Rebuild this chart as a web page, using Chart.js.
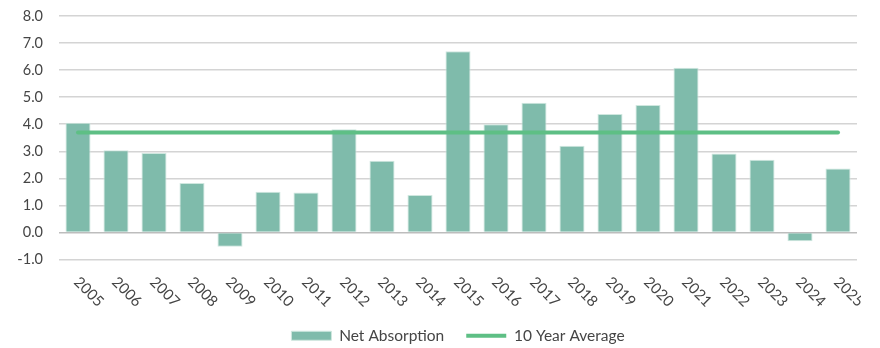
<!DOCTYPE html>
<html>
<head>
<meta charset="utf-8">
<script src="https://cdn.jsdelivr.net/npm/chart.js@4/dist/chart.umd.min.js"></script>
<style>
  html, body { margin: 0; padding: 0; background: #fff; }
  #wrap { width: 880px; height: 348px; position: relative; }
</style>
</head>
<body>
<div id="wrap"><canvas id="chart"></canvas></div>
<script>
// data
const years = ['2005', '2006', '2007', '2008', '2009', '2010', '2011', '2012', '2013', '2014',
  '2015', '2016', '2017', '2018', '2019', '2020', '2021', '2022', '2023', '2024', '2025'];
const netAbsorption = [4.05, 3.04, 2.94, 1.83, -0.53, 1.50, 1.48, 3.81, 2.65, 1.38,
  6.70, 4.00, 4.79, 3.20, 4.38, 4.71, 6.09, 2.92, 2.69, -0.33, 2.36];
const tenYearAvg = [3.69, 3.69, 3.69, 3.69, 3.69, 3.69, 3.69, 3.69, 3.69, 3.69,
  3.69, 3.69, 3.69, 3.69, 3.69, 3.69, 3.69, 3.69, 3.69, 3.69, 3.69];
const yTicks = [-1, 0, 1, 2, 3, 4, 5, 6, 7, 8];

const FONT = 'Lato, "Open Sans", sans-serif';
const TEXT = '#454545';

// x labels run down-right from the tick, which chart.js can't do by itself
const slantedLabels = {
  id: 'slantedLabels',
  afterDraw(chart) {
    const ctx = chart.ctx;
    const x = chart.scales.x;
    ctx.save();
    ctx.beginPath();
    ctx.rect(0, 0, 861, chart.height);
    ctx.clip();
    ctx.font = '15px ' + FONT;
    ctx.fillStyle = TEXT;
    ctx.textAlign = 'left';
    ctx.textBaseline = 'middle';
    chart.data.labels.forEach((lab, i) => {
      const px = x.getPixelForValue(i);
      ctx.save();
      ctx.translate(px - 1.5, x.top + 20);
      ctx.rotate(Math.PI / 4);
      ctx.fillText(lab, 0, 0);
      ctx.restore();
    });
    ctx.restore();
  }
};

const ctx = document.getElementById('chart').getContext('2d');
const chart = new Chart(ctx, {
  type: 'bar',
  data: {
    labels: years,
    datasets: [
      {
        type: 'bar',
        label: 'Net Absorption',
        data: netAbsorption,
        backgroundColor: '#7fbbab',
        borderColor: '#cfe7df',
        borderWidth: 1,
        barPercentage: 0.66,
        categoryPercentage: 1,
        pointStyle: 'rect',
        order: 1
      },
      {
        type: 'line',
        label: '10 Year Average',
        data: tenYearAvg,
        borderColor: '#5ebf85',
        backgroundColor: '#5ebf85',
        borderWidth: 4,
        borderCapStyle: 'round',
        pointRadius: 0,
        pointStyle: 'line',
        order: 0
      }
    ]
  },
  options: {
    responsive: true,
    maintainAspectRatio: false,
    animation: false,
    layout: { padding: { left: 0, right: 23, top: 16, bottom: -5.5 } },
    scales: {
      x: {
        grid: { display: false },
        border: { display: false },
        ticks: { display: false },
        afterFit: (s) => { s.height = 46.5; }
      },
      y: {
        min: -1,
        max: 8,
        afterBuildTicks: (s) => { s.ticks = yTicks.map(v => ({ value: v })); },
        afterFit: (s) => { s.width = 59; },
        border: { display: false },
        grid: {
          drawTicks: true,
          tickLength: 16,
          tickColor: 'rgba(0,0,0,0)',
          lineWidth: 1.5,
          color: (c) => (c.tick && c.tick.value === 0 ? '#bdbdbd' : '#d4d4d4')
        },
        ticks: {
          padding: 0,
          color: TEXT,
          font: { family: FONT, size: 14.5 },
          callback: (v) => Number(v).toFixed(1)
        }
      }
    },
    plugins: {
      tooltip: { enabled: false },
      legend: {
        position: 'bottom',
        fullSize: false,
        labels: {
          usePointStyle: true,
          pointStyleWidth: 40,
          boxHeight: 9,
          padding: 22,
          color: TEXT,
          font: { family: FONT, size: 15.5 },
          sort: (a, b) => a.datasetIndex - b.datasetIndex
        }
      }
    }
  },
  plugins: [slantedLabels]
});
</script>
</body>
</html>
